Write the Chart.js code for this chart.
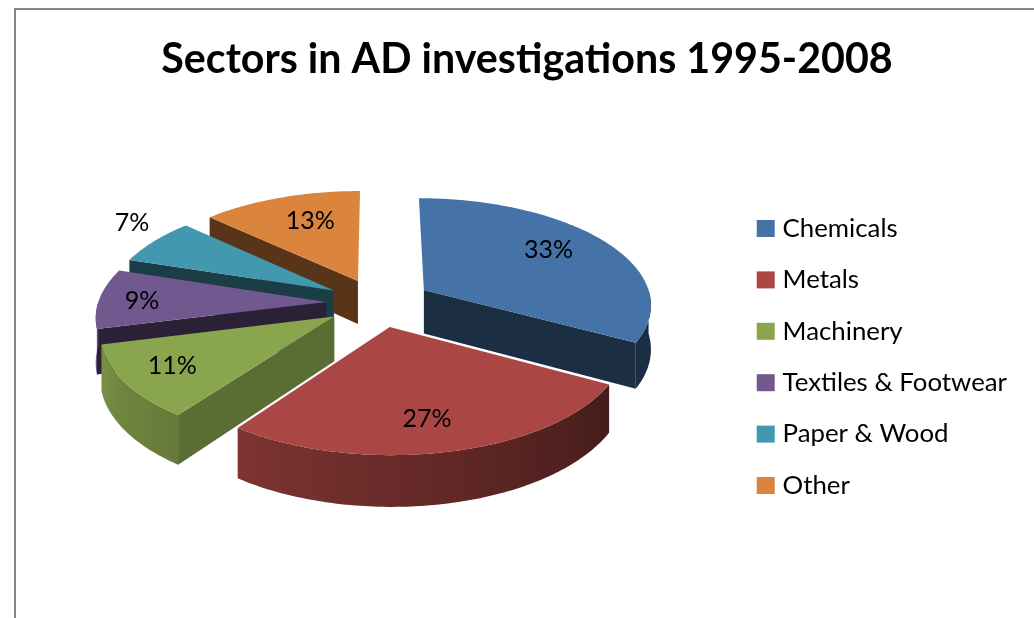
<!DOCTYPE html>
<html>
<head>
<meta charset="utf-8">
<style>
html,body{margin:0;padding:0;background:#fff;overflow:hidden}
#wrap{position:relative;width:1034px;height:618px}
#frame{position:absolute;left:14px;top:8px;right:-5px;bottom:-5px;border:2px solid #868686;box-sizing:border-box}
canvas{position:absolute;left:0;top:0}
</style>
<script src="https://cdn.jsdelivr.net/npm/chart.js@4"></script>
</head>
<body>
<div id="wrap"><div id="frame"></div><canvas id="c" width="1034" height="618"></canvas></div>
<script>
const titleText = 'Sectors in AD investigations 1995-2008';
const categories = ['Chemicals','Metals','Machinery','Textiles & Footwear','Paper & Wood','Other'];
const shares = [33,27,11,9,7,13];
const sliceColors = ['#4572a7','#aa4643','#89a54e','#71588f','#4198af','#db843d'];

// Appearance of the 3D look
const wallShade = [0.40,0.40,0.66,0.38,0.40,0.40];
const explode = [54,52,52,52,52,52];
const paintOrder = [5,4,3,2,0,1];
const labelReach = [0.72,0.76,0.78,0.81,1.22,0.68];
const labelTurnDeg = [-4,2,1,-1,5,3];
const view = {tilt:0.465, persp:0.000537, depth:44};
const FONT = 'Lato, "Open Sans", sans-serif';

function shade(hex,f){
  const n=parseInt(hex.slice(1),16);
  const c=[(n>>16)&255,(n>>8)&255,n&255].map(v=>Math.round(Math.min(255,v*f)));
  return `rgb(${c[0]},${c[1]},${c[2]})`;
}
const rimShade = (i,t)=>{
  const deg=(t+Math.PI/2)*180/Math.PI;
  return i===0?0.40:Math.min(0.9,0.40+(deg-119)*0.0035);
};
const pie3d = {
  id:'pie3d',
  afterLayout(chart){
    chart.legend.top += 79; chart.legend.bottom += 79;
    chart.titleBlock.left += 8.5; chart.titleBlock.right += 8.5;
  },
  beforeDatasetDraw(chart){
    const ctx=chart.ctx, arcs=chart.getDatasetMeta(0).data;
    const project=(a,x,y,z)=>{
      const s=1/(1-view.persp*y);
      return [a.x+x*s, a.y+(view.tilt*y+z)*s];
    };
    const pt=(a,t,r,z)=>{
      const m=(a.startAngle+a.endAngle)/2, d=a.options.offset;
      return project(a,r*Math.cos(t)+d*Math.cos(m), r*Math.sin(t)+d*Math.sin(m), z);
    };
    const poly=(pts,fill)=>{
      ctx.beginPath(); pts.forEach((p,i)=>i?ctx.lineTo(p[0],p[1]):ctx.moveTo(p[0],p[1]));
      ctx.closePath(); ctx.fillStyle=fill; ctx.fill();
    };
    const D=view.depth, step=Math.PI/180;
    paintOrder.forEach(i=>{
      const a=arcs[i], R=a.outerRadius, col=a.options.backgroundColor, wall=shade(col,wallShade[i]);
      const sa=a.startAngle, ea=a.endAngle;
      const wallQuad=t=>[pt(a,t,0,0),pt(a,t,R,0),pt(a,t,R,D),pt(a,t,0,D)];
      // radial walls facing the viewer
      if(Math.cos(sa)<-0.001) poly(wallQuad(sa),wall);
      if(Math.cos(ea)>0.001) poly(wallQuad(ea),wall);
      // outer rim, shaded across its visible span
      const lo=Math.max(sa,0), hi=Math.min(ea,Math.PI);
      if(hi>lo){
        const ts=[]; for(let t=lo;t<hi;t+=step) ts.push(t); ts.push(hi);
        const up=ts.map(t=>pt(a,t,R,0)), down=ts.map(t=>pt(a,t,R,D));
        const x0=up[0][0], x1=up[up.length-1][0];
        const g=ctx.createLinearGradient(x0,0,x1,0);
        for(let k=0;k<=8;k++){
          const t=lo+(hi-lo)*k/8, x=pt(a,t,R,0)[0];
          g.addColorStop(Math.min(1,Math.max(0,(x-x0)/((x1-x0)||1))),shade(col,rimShade(i,t)));
        }
        poly(up.concat(down.reverse()),g);
      }
      // top face
      const top=[pt(a,sa,0,0)];
      for(let t=sa;t<ea;t+=step) top.push(pt(a,t,R,0));
      top.push(pt(a,ea,R,0));
      poly(top,col);
    });
    // value labels
    ctx.fillStyle='#000'; ctx.font='25px '+FONT; ctx.textAlign='center'; ctx.textBaseline='middle';
    arcs.forEach((a,i)=>{
      const m=(a.startAngle+a.endAngle)/2, t=m+labelTurnDeg[i]*Math.PI/180;
      const p=pt(a,t,a.outerRadius*labelReach[i],0);
      ctx.fillText(shares[i]+'%',p[0],p[1]);
    });
    return false;
  }
};

new Chart(document.getElementById('c'),{
  type:'pie',
  data:{labels:categories,datasets:[{data:shares,backgroundColor:sliceColors,offset:explode,borderWidth:0}]},
  plugins:[pie3d],
  options:{
    responsive:false,animation:false,events:[],
    radius:228,rotation:0,
    layout:{padding:{left:20,right:17,top:35,bottom:97}},
    plugins:{
      title:{display:true,text:titleText,color:'#000',font:{family:FONT,size:41.2,weight:'700'},padding:{top:0,bottom:0},align:'center'},
      tooltip:{enabled:false},
      legend:{
        display:true,position:'right',
        labels:{
          color:'#000',font:{family:FONT,size:25.8},padding:25.6,boxWidth:8,boxHeight:7,
          generateLabels(chart){
            return categories.map((name,i)=>({text:name,fillStyle:sliceColors[i],strokeStyle:sliceColors[i],lineWidth:10,index:i}));
          }
        }
      }
    }
  }
});
</script>
</body>
</html>
